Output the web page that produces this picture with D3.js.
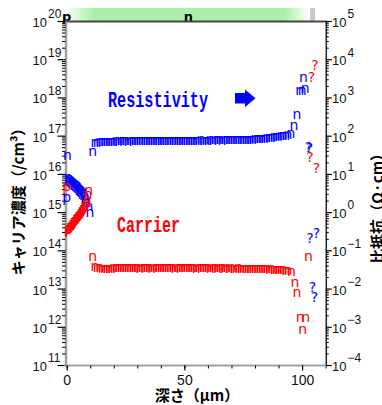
<!DOCTYPE html>
<html><head><meta charset="utf-8">
<script src="https://cdn.jsdelivr.net/npm/d3@7"></script>
<style>body{margin:0;background:#fff}svg{display:block}</style>
</head><body>
<script>
// ---------------- DATA ----------------
const carrierDepth = [
  0,
  0.6,1.1,1.6,2.1,2.6,3.1,3.6,4.1,4.6,5.1,5.6,6.1,6.6,7.1,7.6,8.1,
  8.6,9.0,9.3,
  11,
  12,13,14,15,16,17,18,19,20,21,
  22,23,24,25,26,27,28,29,30,31,
  32,33,34,35,36,37,38,39,40,41,
  42,43,44,45,46,47,48,49,50,51,
  52,53,54,55,56,57,58,59,60,61,
  62,63,64,65,66,67,68,69,70,71,
  72,73,74,75,76,77,78,79,80,81,
  82,83,84,85,86,87,88,89,90,91,
  92,93,94,
  95.5,97.0,97.8,99.2,101.5,100.3,102.7,
  103.4,106.1,104.0,105.5
];
const carrierValue = [
  4.5e15,
  3.5e14,3.7e14,4.05e14,4.4e14,4.9e14,5.4e14,6.0e14,6.6e14,7.2e14,7.9e14,8.6e14,9.4e14,1.04e15,1.2e15,1.39e15,1.62e15,
  2.0e15,2.8e15,3.6e15,
  6.7e13,
  3.6e13,3.5e13,3.4e13,3.3e13,3.2e13,3.2e13,3.3e13,3.3e13,3.4e13,3.4e13,
  3.4e13,3.5e13,3.4e13,3.4e13,3.5e13,3.4e13,3.4e13,3.5e13,3.4e13,3.3e13,
  3.4e13,3.5e13,3.4e13,3.4e13,3.3e13,3.4e13,3.5e13,3.4e13,3.4e13,3.5e13,
  3.4e13,3.4e13,3.5e13,3.4e13,3.3e13,3.4e13,3.4e13,3.5e13,3.4e13,3.4e13,
  3.5e13,3.4e13,3.4e13,3.3e13,3.4e13,3.4e13,3.5e13,3.4e13,3.4e13,3.3e13,
  3.4e13,3.4e13,3.3e13,3.4e13,3.4e13,3.3e13,3.4e13,3.3e13,3.4e13,3.3e13,
  3.3e13,3.4e13,3.3e13,3.3e13,3.2e13,3.3e13,3.3e13,3.2e13,3.3e13,3.2e13,
  3.2e13,3.3e13,3.2e13,3.2e13,3.1e13,3.2e13,3.1e13,3.1e13,3.0e13,3.0e13,
  3.0e13,2.9e13,2.9e13,
  2.69e13,1.38e13,7.6e12,1.68e12,1.68e12,8.15e11,6.8e13,
  2.67e16,1.38e16,3.3e18,6.6e18
];
const carrierGlyphRuns = [["p",17],["n",94],["?",4]];

const resistDepth = [
  0,0.35,
  0.6,1.1,1.6,2.1,2.6,3.1,3.6,4.1,4.6,5.1,5.6,6.1,6.6,7.1,7.6,8.1,
  8.6,9.4,9.9,
  11,
  12,13,14,15,16,17,18,19,20,21,
  22,23,24,25,26,27,28,29,30,31,
  32,33,34,35,36,37,38,39,40,41,
  42,43,44,45,46,47,48,49,50,51,
  52,53,54,55,56,57,58,59,60,61,
  62,63,64,65,66,67,68,69,70,71,
  72,73,74,75,76,77,78,79,80,81,
  82,83,84,85,86,87,88,89,90,91,
  92,93,94,
  95.3,96.6,97.8,99.0,100.0,101.3,100.6,
  102.7,103.1,103.4,106.1,104.4,105.3
];
const resistValue = [
  2.3,29,
  7.76,7.31,6.89,6.6,6.2,5.8,5.4,5.1,4.7,4.4,4.0,3.7,3.4,3.1,2.6,2.2,
  1.75,1.35,0.95,
  38,
  64,66,67,68,68,69,70,69,70,71,
  70,71,72,71,70,71,72,71,72,73,
  72,71,72,73,72,71,72,73,72,73,
  74,73,72,73,74,73,72,73,74,73,
  72,73,74,73,74,75,74,73,74,75,
  74,75,76,75,74,75,76,75,76,77,
  76,77,78,77,78,79,78,79,80,81,
  82,83,84,85,87,89,91,93,95,97,
  99,101,103,
  112,178,346,1450,1500,1650,3220,
  49,44,0.20,0.27,0.0102,0.0058
];
const resistGlyphRuns = [["p",1],["n",1],["p",16],["n",94],["?",6]];

const xTickValues = [0,10,20,30,40,50,60,70,80,90,100,110];
const xTickLabels = [0,50,100];
const leftExponents = [11,12,13,14,15,16,17,18,19,20];
const rightExponents = [-4,-3,-2,-1,0,1,2,3,4,5];
const regionLabels = ["p","n"];
const regionDepth = [0,51.7];
const bandDepth = [-0.7,11.2,92.7,103.4,105.5];

// ---------------- CHART ----------------
const W=382,H=405;
const svg=d3.select("body").append("svg").attr("width",W).attr("height",H);
const x=d3.scaleLinear().domain([0,110]).range([66.7,325.6]);
const yL=d3.scaleLog().domain([1e11,1e20]).range([365,21]);
const yR=d3.scaleLog().domain([1e-4,1e5]).range([365,21]);
const GREEN="#aaf0aa";

function expand(runs){const a=[];runs.forEach(([g,n])=>{for(let i=0;i<n;i++)a.push(g);});return a;}
const carrierGlyph=expand(carrierGlyphRuns);
const resistGlyph=expand(resistGlyphRuns);

// top band
const defs=svg.append("defs");
const g0=x(bandDepth[0]), g3=x(bandDepth[3]);
const grad=defs.append("linearGradient").attr("id","band").attr("gradientUnits","userSpaceOnUse")
  .attr("x1",g0).attr("x2",g3).attr("y1",0).attr("y2",0);
grad.append("stop").attr("offset",0).attr("stop-color","#fff");
grad.append("stop").attr("offset",(x(bandDepth[1])-g0)/(g3-g0)).attr("stop-color",GREEN);
grad.append("stop").attr("offset",(x(bandDepth[2])-g0)/(g3-g0)).attr("stop-color",GREEN);
grad.append("stop").attr("offset",1).attr("stop-color","#fff");
svg.append("rect").attr("x",g0).attr("y",8).attr("width",g3-g0).attr("height",13).attr("fill","url(#band)");
svg.append("rect").attr("x",x(bandDepth[3])).attr("y",8).attr("width",x(bandDepth[4])-x(bandDepth[3])).attr("height",13).attr("fill","#c8c8c8");
svg.selectAll("text.region").data(regionLabels).join("text").attr("class","region")
  .attr("x",(d,i)=>x(regionDepth[i])).attr("y",21).attr("text-anchor","middle")
  .style("font","bold 13px 'DejaVu Sans'").attr("fill","#000").text(d=>d);

// top line
svg.append("line").attr("x1",65).attr("x2",326.5).attr("y1",21.5).attr("y2",21.5).attr("stroke","#444").attr("stroke-width",2);

// axes
function minorTicks(lo,hi){const t=[];for(let k=lo;k<hi;k++)for(let m=2;m<=9;m++)t.push(m*Math.pow(10,k));return t;}
const AX=65.5;
function styleAxis(g,color,w){g.select(".domain").attr("stroke",color).attr("stroke-width",w);g.selectAll(".tick line").attr("stroke","#000");g.selectAll(".tick text").remove();}
// left
svg.append("g").attr("transform",`translate(${AX},0)`).call(d3.axisLeft(yL).tickValues(minorTicks(11,20)).tickSize(3.5).tickSizeOuter(0).tickFormat(""))
  .call(g=>styleAxis(g,"#a0a0a0",2.5));
svg.append("g").attr("transform",`translate(${AX},0)`).call(d3.axisLeft(yL).tickValues(leftExponents.map(e=>Math.pow(10,e))).tickSize(8).tickSizeOuter(0).tickFormat(""))
  .call(g=>{g.select(".domain").remove();g.selectAll(".tick line").attr("stroke","#000").attr("stroke-width",1.2);});
// right
const RX=325.8;
svg.append("g").attr("transform",`translate(${RX},0)`).call(d3.axisRight(yR).tickValues(minorTicks(-4,5)).tickSize(3).tickSizeOuter(0).tickFormat(""))
  .call(g=>styleAxis(g,"#222",1.5));
svg.append("g").attr("transform",`translate(${RX},0)`).call(d3.axisRight(yR).tickValues(rightExponents.map(e=>Math.pow(10,e))).tickSize(6).tickSizeOuter(0).tickFormat(""))
  .call(g=>{g.select(".domain").remove();g.selectAll(".tick line").attr("stroke","#000").attr("stroke-width",1.2);});
// bottom
svg.append("g").attr("transform","translate(0,365.5)").call(d3.axisBottom(x).tickValues(xTickValues).tickSize(3).tickSizeOuter(0).tickFormat(""))
  .call(g=>{g.select(".domain").attr("stroke","#a0a0a0").attr("stroke-width",2).attr("d",`M${AX-1},0H${RX}`);g.selectAll(".tick line").attr("stroke","#000");});
svg.append("g").attr("transform","translate(0,365.5)").call(d3.axisBottom(x).tickValues(xTickLabels).tickSize(5).tickSizeOuter(0).tickFormat(d=>d))
  .call(g=>{g.select(".domain").remove();g.selectAll(".tick line").attr("stroke","#000").attr("stroke-width",1.2);
    g.selectAll(".tick text").attr("y",0).attr("dy",0).attr("transform","translate(0,19.5)").style("font","14px 'Liberation Sans'").attr("fill","#111");});

// tick labels (10^n)
const labF="13px 'Liberation Sans'", expF="12px 'Liberation Sans'";
leftExponents.forEach(e=>{
  const y=yL(Math.pow(10,e));
  svg.append("text").attr("x",47).attr("y",y+6).attr("text-anchor","end").style("font",labF).attr("fill","#111").text("10");
  svg.append("text").attr("x",48).attr("y",y-2.7).attr("text-anchor","start").style("font",expF).attr("fill","#111").text(e);
});
rightExponents.forEach(e=>{
  const y=yR(Math.pow(10,e));
  svg.append("text").attr("x",332).attr("y",y+6).attr("text-anchor","start").style("font",labF).attr("fill","#111").text("10");
  svg.append("text").attr("x",347.5).attr("y",y-2.7).attr("text-anchor","start").style("font",expF).attr("fill","#111").text(e<0?"\u2212"+(-e):e);
});

// axis titles
svg.append("text").attr("transform","translate(17.5,198) rotate(-90)").attr("text-anchor","middle").attr("dominant-baseline","central")
  .style("font","bold 15px 'Noto Sans CJK JP'").attr("fill","#000").text("キャリア濃度（/cm³）");
svg.append("text").attr("transform","translate(376.5,205) rotate(-90)").attr("text-anchor","middle").attr("dominant-baseline","central")
  .style("font","bold 15px 'Noto Sans CJK JP'").attr("fill","#000").text("比抵抗（Ω·cm）");
svg.append("text").attr("x",197).attr("y",401).attr("text-anchor","middle")
  .style("font","bold 15px 'Noto Sans CJK JP'").attr("fill","#000").text("深さ（μm）");

// data glyphs
const mk="14px 'DejaVu Sans'";
svg.append("g").selectAll("text").data(resistDepth).join("text")
  .attr("x",(d)=>x(d)).attr("y",(d,i)=>yR(resistValue[i])+4).attr("text-anchor","middle")
  .style("font",mk).attr("fill","#0000ff").text((d,i)=>resistGlyph[i]);
svg.append("g").selectAll("text").data(carrierDepth).join("text")
  .attr("x",(d)=>x(d)).attr("y",(d,i)=>yL(carrierValue[i])+4).attr("text-anchor","middle")
  .style("font",mk).attr("fill","#ff0000").text((d,i)=>carrierGlyph[i]);

// series labels
svg.append("text").attr("x",108).attr("y",107).attr("textLength",100).attr("lengthAdjust","spacingAndGlyphs")
  .style("font","bold 22px 'Liberation Mono'").attr("fill","#0000ff").text("Resistivity");
svg.append("path").attr("d","M235,93H245V89.5L255.5,98.2L245,107V103.4H235Z").attr("fill","#0000ff");
svg.append("text").attr("x",117).attr("y",232).attr("textLength",63).attr("lengthAdjust","spacingAndGlyphs")
  .style("font","bold 22px 'Liberation Mono'").attr("fill","#ff0000").text("Carrier");
</script>
</body></html>
